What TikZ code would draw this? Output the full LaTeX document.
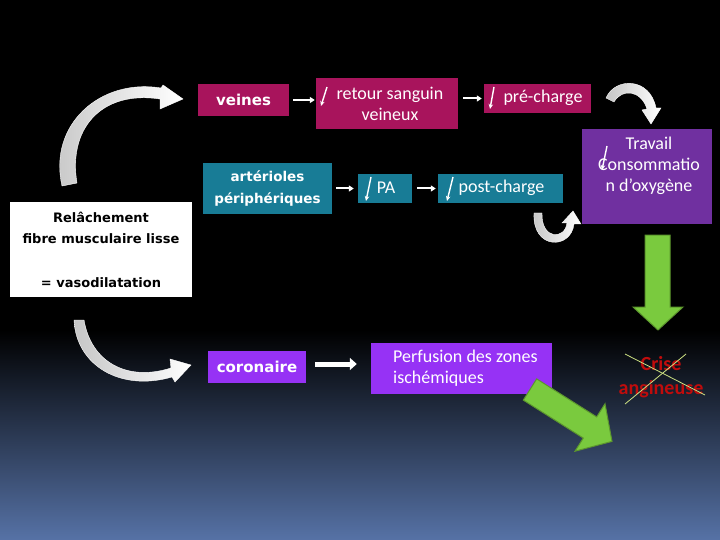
\documentclass[tikz,border=0pt]{standalone}
\usepackage{fontspec}
\setmainfont{Carlito}
\newfontfamily\tah{DejaVu Sans}
\usetikzlibrary{arrows.meta}
\definecolor{mag}{RGB}{168,20,92}
\definecolor{teal2}{RGB}{24,124,150}
\definecolor{purp}{RGB}{112,48,160}
\definecolor{violet2}{RGB}{150,50,245}
\definecolor{gfill}{RGB}{122,202,62}
\definecolor{gedge}{RGB}{92,150,45}
\definecolor{bgbot}{RGB}{86,114,166}
\definecolor{crise}{RGB}{192,12,12}
\definecolor{xline}{RGB}{205,225,130}
\begin{document}
\begin{tikzpicture}[x=1pt,y=-1pt,
  bx/.style={draw=none, inner sep=0pt, text=white, align=center},
  cal/.style={text=white, align=center, inner sep=0pt, font=\fontsize{18}{21}\selectfont},
  tahb/.style={font=\tah\bfseries\fontsize{#1}{21.7}\selectfont},
  arr/.style={white, line width=2pt, -{Triangle[length=5pt,width=6pt]}},
  dn/.style={white, line width=1.4pt, -{Stealth[length=5pt,width=4.5pt]}},
  curv/.style={left color=gray!45, middle color=white, right color=white, draw=white, line width=0.4pt},
  grn/.style={draw=gedge, fill=gfill, line width=1pt, line join=miter}]
\useasboundingbox (0,0) rectangle (720,540);
% background
\fill[black] (0,0) rectangle (720,540);
\shade[top color=black, bottom color=bgbot] (0,330) rectangle (720,540);

% nodes
\node[bx, fill=white, text=black, minimum width=182pt, minimum height=95pt, tahb=13] (relax) at (101,249.5)
  {Relâchement\\fibre musculaire lisse\\\mbox{}\\= vasodilatation};
\node[bx, fill=mag, minimum width=91pt, minimum height=32pt, tahb=15] (veines) at (243.5,100) {veines};
\node[bx, fill=mag, minimum width=142pt, minimum height=51pt] (retour) at (387,103.5) {};
\node[cal] (retourtxt) at (390,104) {retour sanguin\\veineux};
\node[bx, fill=mag, minimum width=107pt, minimum height=29pt] (pre) at (537.5,98.5) {};
\node[cal] (pretxt) at (543,98) {pré-charge};
\node[bx, fill=purp, minimum width=130pt, minimum height=95pt] (trav) at (647,176.5) {};
\node[cal] (travtxt) at (649,166) {Travail\\Consommatio\\n d’oxygène};
\node[bx, fill=teal2, minimum width=129pt, minimum height=51pt, tahb=13.5] (art) at (267.5,188.5) {artérioles\\périphériques};
\node[bx, fill=teal2, minimum width=54pt, minimum height=29pt] (pa) at (385,188.5) {};
\node[cal] (patxt) at (386,188) {PA};
\node[bx, fill=teal2, minimum width=125pt, minimum height=29pt] (post) at (500.5,188.5) {};
\node[cal] (posttxt) at (501.5,188) {post-charge};
\node[bx, fill=violet2, minimum width=98pt, minimum height=32pt, tahb=15] (cor) at (257,367) {coronaire};
\node[bx, fill=violet2, minimum width=181pt, minimum height=51pt] (perf) at (461.5,368.5) {};
\node[cal, align=left, anchor=west] (perftxt) at (393,368.5) {Perfusion des zones\\ischémiques};
\node[text=crise, align=center, inner sep=0pt, font=\bfseries\fontsize{20}{24}\selectfont] (crise) at (661,377) {Crise\\angineuse};
\draw[xline, line width=0.8pt] (625,354) -- (705,395);
\draw[xline, line width=0.8pt] (625,404) -- (686,354);

% straight arrows
\draw[arr] ([xshift=4pt]veines.east) -- ([xshift=-1pt]veines.east -| retour.west);
\draw[arr] ([xshift=5pt]pre.west -| retour.east) -- ([xshift=-2pt]pre.west);
\draw[arr] ([xshift=4pt]art.east) -- ([xshift=-4pt]art.east -| pa.west);
\draw[arr] ([xshift=5pt]pa.east) -- ([xshift=-2pt]post.west);
\draw[white, line width=5pt, -{Triangle[length=7pt,width=12pt]}]
  ([xshift=9pt,yshift=3pt]cor.east) -- ([xshift=-14pt,yshift=3pt]cor.east -| perf.west);

% slanted down glyphs
\draw[dn] (327,87) -- (321,106);
\draw[dn] (494,87) -- (490,109);
\draw[dn] (371,177) -- (366,201);
\draw[dn] (453,177) -- (447,201);
\draw[dn] (607,146) -- (602,170);

% curved arrows
\draw[curv] (62,186) .. controls (48,125) and (100,78) .. (161,88) -- (163,85) -- (183,99) -- (160,109)
  -- (160,99) .. controls (100,90) and (68,130) .. (77,183) -- cycle;
\draw[curv] (74,320) .. controls (76,365) and (120,392) .. (172,377) -- (175,382) -- (191,365) -- (170,359)
  -- (171,368) .. controls (127,382) and (91,362) .. (84,320) -- cycle;
\draw[curv] (606,98) .. controls (615,77) and (650,77) .. (656,108) -- (661,108) -- (651,124) -- (642,110)
  -- (647,109) .. controls (641,90) and (622,88) .. (614,102) -- cycle;
\draw[curv] (534,213) .. controls (532,250) and (571,250) .. (574,224) -- (581,224) -- (573,211) -- (562,223)
  -- (567,223) .. controls (565,240) and (541,240) .. (542,213) -- cycle;

% green arrows
\draw[grn] (645,235) -- (670,235) -- (670,307) -- (683,307) -- (658,330) -- (633,307) -- (645,307) -- cycle;
\draw[grn] (536.7,378.9) -- (596.7,416.9) -- (605,403.8) -- (612,441.4) -- (575,451.2) -- (583.3,438.1) -- (523.3,400.1) -- cycle;
\end{tikzpicture}
\end{document}
